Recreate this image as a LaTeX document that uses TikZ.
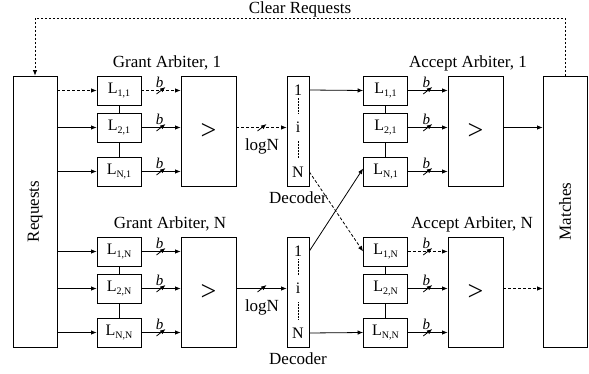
\documentclass[tikz,border=0pt]{standalone}
\usepackage{fontspec}
\setmainfont{Liberation Serif}
\usetikzlibrary{arrows.meta,calc}
\newcommand\Lsub[1]{L\raisebox{-3.5pt}{\fontsize{10}{12}\selectfont #1}}
\tikzset{
  box/.style={draw, line width=0.8pt, inner sep=0pt},
  lbox/.style={box, minimum width=44pt, minimum height=29pt, font=\fontsize{16}{18}\selectfont},
  cmp/.style={box, minimum width=55pt, minimum height=110pt, font=\fontsize{28}{28}\selectfont},
  dec/.style={box, minimum width=22pt, minimum height=110pt},
  tall/.style={box, minimum width=44pt, minimum height=271pt},
  dtxt/.style={inner sep=0pt, font=\fontsize{16}{18}\selectfont},
  arr/.style={line width=0.8pt, -{Latex[length=5.5pt,width=4.5pt]}},
  ln/.style={line width=0.8pt},
  dsh/.style={dash pattern=on 3pt off 2pt},
  dotl/.style={dash pattern=on 2pt off 2pt},
  fdots/.style={line width=0.5pt, dash pattern=on 0.6pt off 0.9pt},
  bus/.pic={\draw[solid, line width=0.8pt] (-4.5,3.5) -- (4.5,-3.5);
            \node[font=\fontsize{15}{15}\selectfont\itshape, inner sep=0pt] at (-1.5,-8.5) {b};},
  lbus/.pic={\draw[solid, line width=0.8pt] (-4.5,3.5) -- (4.5,-3.5);},
}
\begin{document}
\begin{tikzpicture}[x=1pt,y=-1pt, font=\fontsize{17}{20}\selectfont]
\useasboundingbox (0,0) rectangle (589,374);

% big side boxes
\node[tall] (req) at (35,211.5) {};
\node[rotate=90] (reqtxt) at (req.center) {Requests};
\node[tall] (mat) at (565,211.5) {};
\node[rotate=90] (mattxt) at (mat.center) {Matches};

% clear requests feedback
\coordinate (ctop) at (300,18);
\node (clrtxt) at (300,9) {Clear Requests};
\draw[arr, dotl] (mat.north) |- (ctop) -| (req.north);

% ---------- Grant arbiter 1 ----------
\node (g1lab) at (167,63) {Grant Arbiter, 1};
\node[lbox] (ga11) at (119,90.5) {\Lsub{1,1}};
\node[lbox] (ga21) at (119,127.5) {\Lsub{2,1}};
\node[lbox] (gaN1) at (119,171.5) {\Lsub{N,1}};
\node[cmp] (gc1) at (208.5,131) {>};
\draw[ln] (ga11.south) -- (ga21.north);
\draw[ln] (ga21.south) -- (gaN1.north);
\draw[arr, dsh] (ga11.west -| req.east) -- (ga11.west);
\draw[arr] (ga21.west -| req.east) -- (ga21.west);
\draw[arr] (gaN1.west -| req.east) -- (gaN1.west);
\draw[arr, dsh] (ga11.east) -- pic[pos=0.5]{bus} (ga11.east -| gc1.west);
\draw[arr] (ga21.east) -- pic[pos=0.5]{bus} (ga21.east -| gc1.west);
\draw[arr] (gaN1.east) -- pic[pos=0.5]{bus} (gaN1.east -| gc1.west);

% ---------- Grant arbiter N ----------
\node (gNlab) at (170,224) {Grant Arbiter, N};
\node[lbox] (ga1N) at (119,251.5) {\Lsub{1,N}};
\node[lbox] (ga2N) at (119,288.5) {\Lsub{2,N}};
\node[lbox] (gaNN) at (119,332.5) {\Lsub{N,N}};
\node[cmp] (gcN) at (208.5,292) {>};
\draw[ln] (ga1N.south) -- (ga2N.north);
\draw[ln] (ga2N.south) -- (gaNN.north);
\draw[arr] (ga1N.west -| req.east) -- (ga1N.west);
\draw[arr] (ga2N.west -| req.east) -- (ga2N.west);
\draw[arr] (gaNN.west -| req.east) -- (gaNN.west);
\draw[arr] (ga1N.east) -- pic[pos=0.5]{bus} (ga1N.east -| gcN.west);
\draw[arr] (ga2N.east) -- pic[pos=0.5]{bus} (ga2N.east -| gcN.west);
\draw[arr] (gaNN.east) -- pic[pos=0.5]{bus} (gaNN.east -| gcN.west);

% ---------- Decoders ----------
\node[dec] (dec1) at (298,131) {};
\node[dtxt] (d1a) at (298,90) {1};
\node[dtxt] (d1i) at (298,127) {i};
\node[dtxt] (d1n) at (298,172) {N};
\draw[fdots] (298,98) -- (298,114);
\draw[fdots] (298,141) -- (298,158);
\node[below=5pt, inner sep=0pt] (dec1lab) at (dec1.south) {Decoder};

\node[dec] (dec2) at (298,292) {};
\node[dtxt] (d2a) at (298,251) {1};
\node[dtxt] (d2i) at (298,288) {i};
\node[dtxt] (d2n) at (298,333) {N};
\draw[fdots] (298,259) -- (298,275);
\draw[fdots] (298,302) -- (298,319);
\node[below=5pt, inner sep=0pt] (dec2lab) at (dec2.south) {Decoder};

% grant comparator -> decoder
\draw[arr, dsh] (ga21.east -| gc1.east) -- pic[pos=0.51]{lbus} (ga21.east -| dec1.west);
\node (log1) at (262,146) {logN};
\draw[arr] (ga2N.east -| gcN.east) -- pic[pos=0.51]{lbus} (ga2N.east -| dec2.west);
\node (log2) at (262,307) {logN};

% ---------- Accept arbiter 1 ----------
\node (a1lab) at (468,63) {Accept Arbiter, 1};
\node[lbox] (aa11) at (385.5,90.5) {\Lsub{1,1}};
\node[lbox] (aa21) at (385.5,127.5) {\Lsub{2,1}};
\node[lbox] (aaN1) at (385.5,171.5) {\Lsub{N,1}};
\node[cmp] (ac1) at (475.5,131) {>};
\draw[ln] (aa11.south) -- (aa21.north);
\draw[ln] (aa21.south) -- (aaN1.north);
\draw[arr] (aa11.east) -- pic[pos=0.5]{bus} (aa11.east -| ac1.west);
\draw[arr] (aa21.east) -- pic[pos=0.5]{bus} (aa21.east -| ac1.west);
\draw[arr] (aaN1.east) -- pic[pos=0.5]{bus} (aaN1.east -| ac1.west);
\draw[arr] (aa21.east -| ac1.east) -- (aa21.east -| mat.west);

% ---------- Accept arbiter N ----------
\node (aNlab) at (472,224) {Accept Arbiter, N};
\node[lbox] (aa1N) at (385.5,251.5) {\Lsub{1,N}};
\node[lbox] (aa2N) at (385.5,288.5) {\Lsub{2,N}};
\node[lbox] (aaNN) at (385.5,332.5) {\Lsub{N,N}};
\node[cmp] (acN) at (475.5,292) {>};
\draw[ln] (aa1N.south) -- (aa2N.north);
\draw[ln] (aa2N.south) -- (aaNN.north);
\draw[arr, dsh] (aa1N.east) -- pic[pos=0.5]{bus} (aa1N.east -| acN.west);
\draw[arr] (aa2N.east) -- pic[pos=0.5]{bus} (aa2N.east -| acN.west);
\draw[arr] (aaNN.east) -- pic[pos=0.5]{bus} (aaNN.east -| acN.west);
\draw[arr, dsh] (aa2N.east -| acN.east) -- (aa2N.east -| mat.west);

% ---------- decoder -> accept ----------
\draw[arr] (d1a -| dec1.east) -- (aa11.west);
\draw[arr] (d2n -| dec2.east) -- (aaNN.west);
\draw[arr, dsh] (d1n -| dec1.east) -- (aa1N.west);
\draw[arr] (d2a -| dec2.east) -- ([yshift=3pt]aaN1.west);
\end{tikzpicture}
\end{document}
